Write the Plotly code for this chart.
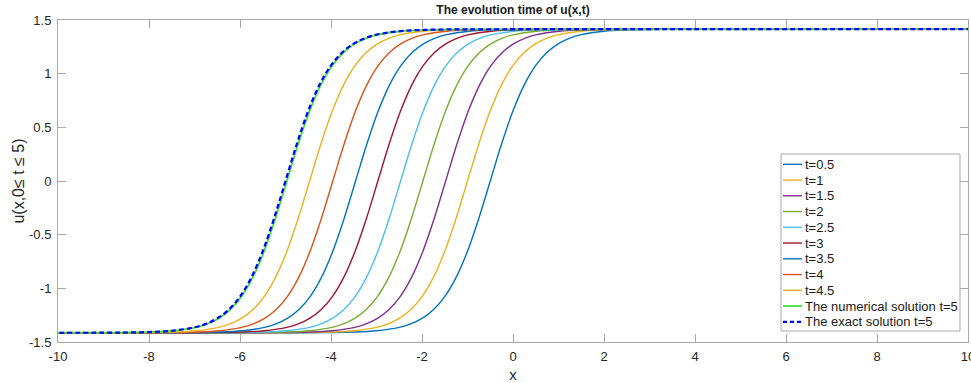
import plotly.graph_objects as go

# Time labels and curve centres (x where u crosses 0)
t_labels = ["t=0.5", "t=1", "t=1.5", "t=2", "t=2.5", "t=3", "t=3.5", "t=4", "t=4.5"]
centers = [-0.5, -1.0, -1.48, -1.98, -2.47, -2.97, -3.46, -3.96, -4.47]
colors = ["#0072BD", "#EDB120", "#7E2F8E", "#77AC30", "#4DBEEE", "#A2142F",
          "#0072BD", "#D95319", "#EDB120"]
center_num_t5 = -4.97
center_exact_t5 = -5.0
num_label = "The numerical solution t=5"
exact_label = "The exact solution t=5"

# Common kink profile: offset from centre vs. u
prof_d = [-15, -4, -3.5, -3, -2.5, -2, -1.75, -1.5, -1.25, -1, -0.75, -0.5, -0.25,
          0, 0.25, 0.5, 0.75, 1, 1.25, 1.5, 1.75, 2, 2.5, 3, 3.5, 4, 15]
prof_u = [-1.4142, -1.4133, -1.4116, -1.4072, -1.3953, -1.3634, -1.3313, -1.2801,
          -1.1996, -1.0771, -0.8982, -0.6535, -0.3464, 0.0, 0.3464, 0.6535, 0.8982,
          1.0771, 1.1996, 1.2801, 1.3313, 1.3634, 1.3953, 1.4072, 1.4116, 1.4133, 1.4142]

x_ticks = [-10, -8, -6, -4, -2, 0, 2, 4, 6, 8, 10]
x_tick_text = ["-10", "-8", "-6", "-4", "-2", "0", "2", "4", "6", "8", "10"]
y_ticks = [-1.5, -1, -0.5, 0, 0.5, 1, 1.5]
y_tick_text = ["-1.5", "-1", "-0.5", "0", "0.5", "1", "1.5"]

W, H = 971, 383
ML, MR, MT, MB = 58, 3, 20, 41
PW, PH = W - ML - MR, H - MT - MB

FONT = "Liberation Sans, Arial"
GREY = "#a8a8a8"

fig = go.Figure()
for lab, c, col in zip(t_labels, centers, colors):
    fig.add_trace(go.Scatter(x=[d + c for d in prof_d], y=prof_u, mode="lines",
                             name=lab, line=dict(color=col, width=1.4, shape="spline")))
fig.add_trace(go.Scatter(x=[d + center_num_t5 for d in prof_d], y=prof_u, mode="lines",
                         name=num_label,
                         line=dict(color="#3ee43e", width=1.8, shape="spline")))
fig.add_trace(go.Scatter(x=[d + center_exact_t5 for d in prof_d], y=prof_u, mode="lines",
                         name=exact_label,
                         line=dict(color="#0000ff", width=2.2, dash="5px,3px", shape="spline")))


# ---- legend box (MATLAB style, drawn in paper coordinates) ----
def px(xp):
    return (xp - ML) / PW


def py(yp):
    return (H - MB - yp) / PH


leg_items = list(zip(t_labels, colors, ["solid"] * len(t_labels), [1.4] * len(t_labels)))
leg_items += [(num_label, "#3ee43e", "solid", 1.8), (exact_label, "#0000ff", "4px,3px", 2.2)]

box_l, box_r, box_t, box_b = 781, 960, 154, 331
row0, row_step = 164.3, 15.75
shapes = [dict(type="rect", xref="paper", yref="paper", x0=px(box_l), x1=px(box_r),
               y0=py(box_b), y1=py(box_t), line=dict(color=GREY, width=1),
               fillcolor="white", layer="above")]
annotations = []
for i, (lab, col, dash, w) in enumerate(leg_items):
    yy = row0 + i * row_step
    shapes.append(dict(type="line", xref="paper", yref="paper", x0=px(783), x1=px(802),
                       y0=py(yy), y1=py(yy), line=dict(color=col, width=w, dash=dash),
                       layer="above"))
    annotations.append(dict(text=lab, xref="paper", yref="paper", x=px(803), y=py(yy),
                            xanchor="left", yanchor="middle", showarrow=False,
                            font=dict(family=FONT, size=13, color="#1a1a1a")))

axis_common = dict(showgrid=False, zeroline=False, showline=True, linecolor=GREY,
                   linewidth=1, mirror="ticks", ticks="inside", ticklen=8,
                   tickcolor=GREY, ticklabeloverflow="allow",
                   tickfont=dict(family=FONT, size=13, color="#262626"))

fig.update_layout(
    width=W, height=H,
    margin=dict(l=ML, r=MR, t=MT, b=MB),
    paper_bgcolor="white", plot_bgcolor="white",
    title=dict(text="<b>The evolution time of u(x,t)</b>", x=(513 / W), xanchor="center",
               xref="container", yref="container", y=1 - 10 / H, yanchor="middle",
               font=dict(family=FONT, size=12, color="#1a1a1a")),
    xaxis=dict(range=[-10, 10], tickvals=x_ticks, ticktext=x_tick_text,
               ticklabelstandoff=2, automargin=False,
               title=dict(text="x", font=dict(family=FONT, size=15, color="#262626")),
               **axis_common),
    yaxis=dict(range=[-1.5, 1.5], tickvals=y_ticks, ticktext=y_tick_text,
               ticklabelstandoff=3, automargin=True,
               title=dict(text="u(x,0≤ t ≤ 5)", standoff=0,
                          font=dict(family=FONT, size=16, color="#262626")),
               **axis_common),
    showlegend=False,
    shapes=shapes,
    annotations=annotations,
)

fig.write_html("out.html", config={"displayModeBar": False},
               post_script="document.body.style.margin='0';"
                           "document.documentElement.style.overflow='hidden';")
